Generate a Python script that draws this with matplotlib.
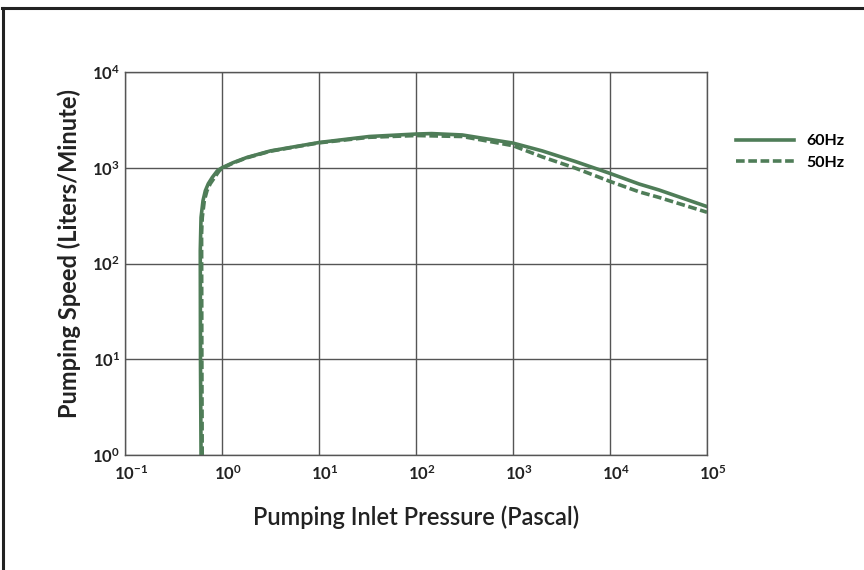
import numpy as np
import matplotlib as mpl
import matplotlib.pyplot as plt
import matplotlib.transforms as mtransforms
from matplotlib.lines import Line2D

mpl.rcParams["font.family"] = ["Lato", "DejaVu Sans"]
mpl.rcParams["mathtext.fontset"] = "custom"
mpl.rcParams["mathtext.rm"] = "Lato"
mpl.rcParams["mathtext.bf"] = "Lato:bold"

# pressure (Pa) vs pumping speed (L/min)
p_60 = [0.608, 0.600, 0.597, 0.608, 0.637, 0.673, 0.722, 0.794, 0.895, 1.0, 1.3, 1.8, 3.16,
        10, 33, 100, 145, 300, 1000, 2000, 4370, 10000, 20000, 32000, 100000]
s_60 = [1, 10, 136, 303, 453, 575, 681, 793, 930, 1000, 1130, 1280, 1500,
        1835, 2120, 2250, 2275, 2200, 1810, 1500, 1164, 873, 676, 586, 393]

p_50 = [0.625, 0.620, 0.616, 0.626, 0.657, 0.70, 0.757, 0.839, 0.938, 1.0, 1.3, 1.8, 3.16,
        10, 33, 100, 300, 1000, 2000, 4370, 10000, 20000, 32000, 100000]
s_50 = [1, 10, 205, 303, 453, 575, 681, 793, 930, 985, 1120, 1270, 1490,
        1820, 2080, 2170, 2120, 1700, 1300, 993, 720, 560, 490, 343]

x_ticks = [1e-1, 1e0, 1e1, 1e2, 1e3, 1e4, 1e5]
x_labels = [r"$\mathbf{10^{-1}}$", r"$\mathbf{10^{0}}$", r"$\mathbf{10^{1}}$", r"$\mathbf{10^{2}}$",
            r"$\mathbf{10^{3}}$", r"$\mathbf{10^{4}}$", r"$\mathbf{10^{5}}$"]
y_ticks = [1e0, 1e1, 1e2, 1e3, 1e4]
y_labels = [r"$\mathbf{10^{0}}$", r"$\mathbf{10^{1}}$", r"$\mathbf{10^{2}}$",
            r"$\mathbf{10^{3}}$", r"$\mathbf{10^{4}}$"]

green = "#4f7d58"
grid_c = "#555555"
text_c = "#222222"

fig = plt.figure(figsize=(8.64, 5.70), dpi=100)
ax = fig.add_axes([125/864, 1 - 455/570, (707-125)/864, (455-72)/570])

ax.plot(p_60, s_60, color=green, lw=2.6, solid_joinstyle="round", label="60Hz")
ax.plot(p_50, s_50, color=green, lw=2.6, dashes=(2.4, 1.0), label="50Hz")

ax.set_xscale("log")
ax.set_yscale("log")
ax.set_xlim(1e-1, 1e5)
ax.set_ylim(1e0, 1e4)
ax.set_xticks(x_ticks)
ax.set_xticklabels(x_labels)
ax.set_yticks(y_ticks)
ax.set_yticklabels(y_labels)
ax.minorticks_off()
ax.tick_params(length=0, labelsize=12, colors=text_c)
ax.xaxis.set_tick_params(pad=7)
ax.yaxis.set_tick_params(pad=3.5)
shift = mtransforms.ScaledTranslation(6/100, 0, fig.dpi_scale_trans)
for lbl in ax.get_xticklabels():
    lbl.set_transform(lbl.get_transform() + shift)
ax.grid(True, color=grid_c, lw=1.0)
for s in ax.spines.values():
    s.set_color(grid_c)
    s.set_linewidth(1.0)

ax.set_xlabel("Pumping Inlet Pressure (Pascal)", fontsize=17, fontweight="semibold",
              color=text_c, labelpad=16)
ax.set_ylabel("Pumping Speed (Liters/Minute)", fontsize=17, fontweight="bold",
              color=text_c)
ax.yaxis.set_label_coords(-0.075, 0.525)

handles = [Line2D([], [], color=green, lw=2.6),
           Line2D([], [], color=green, lw=2.6, dashes=(2.4, 1.0))]
fig.legend(handles, ["60Hz", "50Hz"], loc="center left", bbox_to_anchor=(722/864, 1 - 152/570),
           frameon=False, handlelength=3.6, handletextpad=0.8, labelspacing=0.45,
           prop={"weight": "bold", "size": 11.5})

# outer frame (cropped at right and bottom)
fig.add_artist(Line2D([3/864, 3/864], [0, 1 - 7.5/570], color=text_c, lw=2.2,
                      transform=fig.transFigure))
fig.add_artist(Line2D([2/864, 1], [1 - 7.5/570, 1 - 7.5/570], color=text_c, lw=2.2,
                      transform=fig.transFigure))

fig.savefig("out.png", dpi=100)
